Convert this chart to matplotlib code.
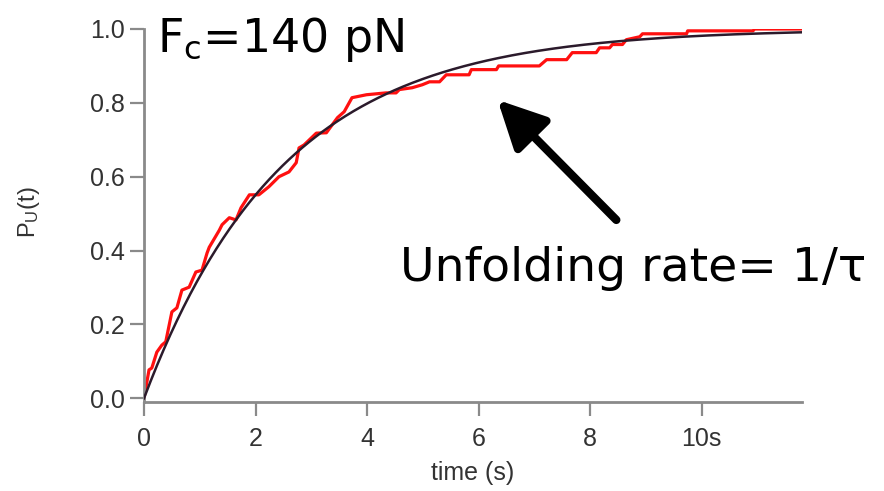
import numpy as np
import matplotlib
matplotlib.use("Agg")
import matplotlib.pyplot as plt
from matplotlib.patches import FancyArrowPatch

plt.rcParams["mathtext.fontset"] = "custom"
plt.rcParams["mathtext.rm"] = "Liberation Sans"
plt.rcParams["mathtext.it"] = "Liberation Sans"

# Measured fraction of unfolded molecules vs time
time_s = [0.0, 0.09, 0.14, 0.23, 0.32, 0.39, 0.50, 0.59, 0.68, 0.81, 0.93, 1.04,
          1.13, 1.17, 1.35, 1.40, 1.53, 1.65, 1.74, 1.89, 2.06, 2.24, 2.42, 2.60,
          2.73, 2.78, 2.87, 3.09, 3.27, 3.47, 3.59, 3.73, 3.99, 4.34, 4.52, 4.58,
          4.81, 4.99, 5.12, 5.30, 5.42, 5.83, 5.87, 6.32, 6.36, 7.09, 7.22, 7.58,
          7.68, 8.11, 8.17, 8.35, 8.40, 8.58, 8.65, 8.89, 8.94, 9.73, 9.75, 10.92,
          10.95, 11.8]
p_unfolded = [0.0, 0.077, 0.082, 0.125, 0.144, 0.153, 0.234, 0.245, 0.293, 0.301,
              0.342, 0.347, 0.393, 0.409, 0.455, 0.470, 0.489, 0.483, 0.516, 0.551,
              0.551, 0.573, 0.600, 0.613, 0.638, 0.678, 0.686, 0.718, 0.719, 0.760,
              0.776, 0.814, 0.822, 0.827, 0.827, 0.836, 0.841, 0.849, 0.857, 0.857,
              0.876, 0.876, 0.890, 0.890, 0.900, 0.900, 0.917, 0.917, 0.936, 0.936,
              0.949, 0.949, 0.958, 0.958, 0.971, 0.979, 0.987, 0.987, 0.995, 0.995,
              1.0, 1.0]

# Single-exponential fit, P(t) = 1 - exp(-t / tau)
tau_s = 2.5
t_max = 11.8

x_ticks = [0, 2, 4, 6, 8, 10]
x_tick_labels = ["0", "2", "4", "6", "8", "10s"]
y_ticks = [0.0, 0.2, 0.4, 0.6, 0.8, 1.0]
y_tick_labels = ["0.0", "0.2", "0.4", "0.6", "0.8", "1.0"]

fig = plt.figure(figsize=(8.84, 4.91), dpi=100)
ax = fig.add_axes([144 / 884, 89 / 491, 658 / 884, 373 / 491])

t_fit = np.linspace(0, t_max, 400)
ax.plot(t_fit, 1 - np.exp(-t_fit / tau_s), color="#2b1a2b", lw=1.8, zorder=3)
ax.plot(time_s, p_unfolded, color="#ff1010", lw=2.3, zorder=2)

ax.set_xlim(0, t_max)
ax.set_ylim(-0.01, 1.0)

for side in ("top", "right"):
    ax.spines[side].set_visible(False)
for side in ("left", "bottom"):
    ax.spines[side].set_color("#8a8a8a")
    ax.spines[side].set_linewidth(2.0)

ax.set_xticks(x_ticks)
ax.set_xticklabels(x_tick_labels)
ax.set_yticks(y_ticks)
ax.set_yticklabels(y_tick_labels)
ax.tick_params(axis="both", direction="out", length=10, width=1.6,
               color="#8a8a8a", labelcolor="#333333", labelsize=18)
ax.tick_params(axis="x", pad=8)
ax.tick_params(axis="y", pad=4)
for lab in ax.get_xticklabels() + ax.get_yticklabels():
    lab.set_family("Liberation Sans")

ax.set_xlabel("time (s)", fontsize=18, family="Liberation Sans", color="#333333",
              va="center")
ax.xaxis.set_label_coords(0.5, -0.19)
ax.set_ylabel(r"P$_\mathrm{U}$(t)", fontsize=17, family="Liberation Sans",
              color="#333333", va="center")
ax.yaxis.set_label_coords(-0.175, 0.51)

fig.text(157 / 884, 1 - 52 / 491, r"F$_\mathregular{c}$=140 pN", fontsize=33,
         family="DejaVu Sans", color="black", va="baseline", ha="left")

fig.text(400 / 884, 1 - 281 / 491, "Unfolding rate= 1/\u03c4", fontsize=34,
         family="DejaVu Sans", color="black", va="baseline", ha="left")

arrow = FancyArrowPatch((8.47, 0.483), (6.34, 0.808),
                        arrowstyle="-|>,head_length=1.6,head_width=0.8",
                        mutation_scale=18, lw=6, color="black",
                        shrinkA=0, shrinkB=0, zorder=4)
ax.add_patch(arrow)

fig.savefig("out.png", dpi=100)
